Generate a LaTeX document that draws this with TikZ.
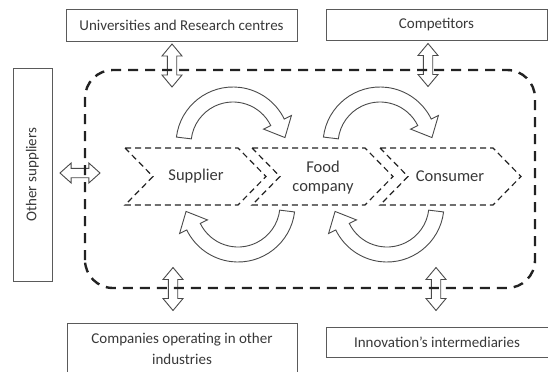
\documentclass[tikz,border=0pt]{standalone}
\usepackage{fontspec}
\setmainfont{Carlito}
\definecolor{boxgray}{HTML}{5A5A5A}
\definecolor{txt}{HTML}{383838}
\definecolor{dashcol}{HTML}{222222}
\definecolor{arrcol}{HTML}{4A4A4A}
\begin{document}
\begin{tikzpicture}[x=1bp,y=1bp,
  box/.style={draw=boxgray, line width=0.9bp, inner sep=0pt, text=txt,
    font=\fontsize{15bp}{21bp}\selectfont, align=center},
  lbl/.style={text=txt, inner sep=0pt, align=center,
    font=\fontsize{16.5bp}{19bp}\selectfont},
  arrowline/.style={draw=arrcol, line width=0.9bp, fill=white, line join=miter},
  chevline/.style={draw=dashcol, line width=1.2bp, dash pattern=on 6bp off 4bp},
  zone/.style={draw=dashcol, line width=2.4bp, dash pattern=on 10bp off 7bp, rounded corners=28bp},
  dblarrow/.pic={
    \draw[arrowline] (0,21.5) -- (10,9.5) -- (4.7,9.5) -- (4.7,-9.5) -- (10,-9.5)
      -- (0,-21.5) -- (-10,-9.5) -- (-4.7,-9.5) -- (-4.7,9.5) -- (-10,9.5) -- cycle;},
  curvarrow/.pic={
    \draw[arrowline] (173:57) arc[start angle=173, end angle=26, radius=57]
      -- (26:65) -- (51.94,6.42) -- (26:34) -- (26:42)
      arc[start angle=26, end angle=173, radius=42] -- cycle;}
]
\useasboundingbox (0,0) rectangle (548,371);
\clip (0,0) rectangle (548,371);

% outer boxes
\node[box, minimum width=231bp, minimum height=32bp] (univ) at (181.5,346) {Universities and Research centres};
\node[box, minimum width=221bp, minimum height=31bp] (comp) at (436.5,346.5) {Competitors};
\node[box, rotate=90, minimum width=213bp, minimum height=39bp] (other) at (32.5,196.5) {Other suppliers};
\node[box, minimum width=230bp, minimum height=52bp] (indus) at (182,22) {Companies operating in other\\industries};
\node[box, minimum width=222bp, minimum height=30bp] (inter) at (437,29) {Innovation’s intermediaries};

% double arrows (drawn before the dashed zone so it passes over them)
\coordinate (aUL) at (172,305.5);
\coordinate (aUR) at (428,306);
\coordinate (aLL) at (173,82);
\coordinate (aLR) at (436,82);
\coordinate (aL) at (80,198);
\pic at (aUL) {dblarrow};
\pic at (aUR) {dblarrow};
\pic at (aLL) {dblarrow};
\pic at (aLR) {dblarrow};
\pic[rotate=90, yscale=0.93] at (aL) {dblarrow};

% dashed zone
\draw[zone] (85,83) rectangle (535,301);

% chevrons
\draw[chevline] (125,223) -- (238,223) -- (266,194.5) -- (238,166) -- (125,166) -- (153,194.5) -- cycle;
\draw[chevline] (252,223) -- (365,223) -- (393,194.5) -- (365,166) -- (252,166) -- (280,194.5) -- cycle;
\draw[chevline] (380,223) -- (493,223) -- (521,194.5) -- (493,166) -- (380,166) -- (408,194.5) -- cycle;
\node[lbl] (sup) at (196,195) {Supplier};
\node[lbl] (food) at (323,193.5) {Food\\company};
\node[lbl] (cons) at (450,195) {Consumer};

% curved arrows
\pic at (233,227) {curvarrow};
\pic at (380,227) {curvarrow};
\pic[rotate=180] at (238,166) {curvarrow};
\pic[rotate=180] at (387,166) {curvarrow};
\end{tikzpicture}
\end{document}
